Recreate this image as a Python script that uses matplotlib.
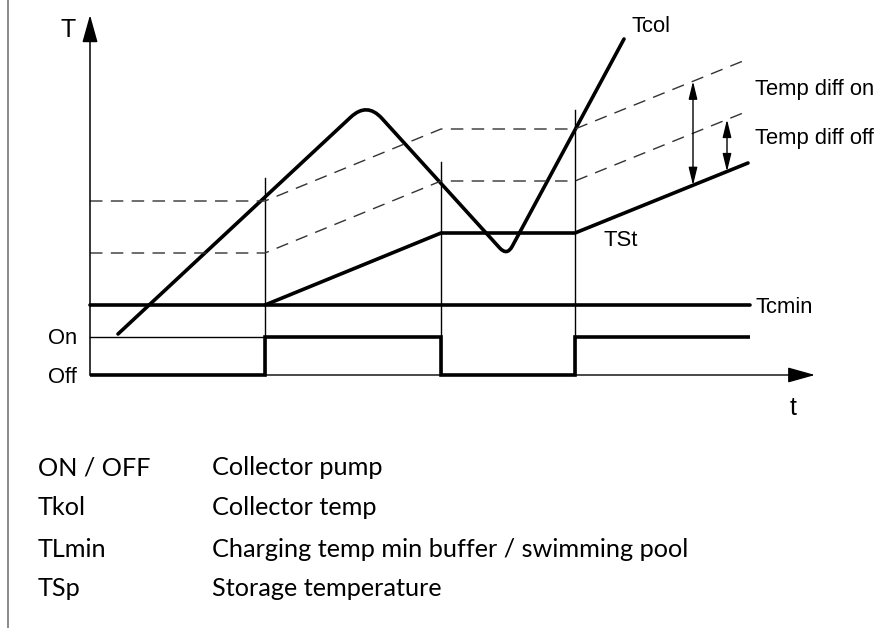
import matplotlib
matplotlib.use('Agg')
import matplotlib.pyplot as plt
from matplotlib.path import Path
from matplotlib.patches import PathPatch
import numpy as np

# ---------------- data (time / temperature units) ----------------
switch_t = [175, 351, 485]            # pump on, pump off, pump on
marker_top = [197, 213, 265]          # top of the thin vertical marker lines
pump_t = [0, 175, 351, 485, 660]
pump_state = [0, 1, 0, 1, 1]
on_level = 38
tcmin_level = 70
tcmin_t = [0, 660]
tst_t = [0, 175, 351, 485, 658]
tst = [70, 70, 142, 142, 212]
diff_on = 104
diff_off = 52
tcol_t = [28, 277, 417, 534]
tcol = [41, 273, 119, 336]
arrow_on_t = 603
arrow_off_t = 637

legend_keys = ["ON / OFF", "Tkol", "TLmin", "TSp"]
legend_desc = ["Collector pump", "Collector temp",
               "Charging temp min buffer / swimming pool", "Storage temperature"]

# ---------------- figure ----------------
W, H = 891, 628
fig = plt.figure(figsize=(W / 100, H / 100), dpi=100)
ax = fig.add_axes([0, 0, 1, 1])
ax.set_xlim(-90, W - 90)
ax.set_ylim(375 - H, 375)
ax.axis('off')

LF = 'Liberation Sans'
THICK = 2.6
THIN = 1.0

# left page border
ax.plot([-82, -82], [375 - H, 375], color='#808080', lw=1.3, solid_capstyle='butt')

# axes with arrows
ax.annotate('', xy=(0, 360), xytext=(0, 0),
            arrowprops=dict(arrowstyle='-|>,head_length=1.0,head_width=0.28',
                            mutation_scale=17, lw=1.1, color='k',
                            shrinkA=0, shrinkB=0))
ax.annotate('', xy=(725, 0), xytext=(0, 0),
            arrowprops=dict(arrowstyle='-|>,head_length=1.0,head_width=0.28',
                            mutation_scale=17, lw=1.0, color='k',
                            shrinkA=0, shrinkB=0))

# thin "On" reference line up to first switch
ax.plot([0, switch_t[0]], [on_level, on_level], color='k', lw=THIN)

# vertical marker lines
for xs, top in zip(switch_t, marker_top):
    ax.plot([xs, xs], [0, top], color='k', lw=1.0)

# dashed switching thresholds
tst_arr = np.array(tst, float)
ax.plot(tst_t, tst_arr + diff_on, color='#333333', lw=1.0, dashes=(9, 6))
ax.plot(tst_t, tst_arr + diff_off, color='#333333', lw=1.0, dashes=(9, 6))

# Tcmin
ax.plot(tcmin_t, [tcmin_level, tcmin_level], color='k', lw=THICK,
        solid_capstyle='round')

# TSt
ax.plot(tst_t[1:], tst[1:], color='k', lw=THICK, solid_capstyle='round',
        solid_joinstyle='miter')

# pump signal
ax.plot(pump_t, np.array(pump_state) * on_level, color='k', lw=THICK,
        drawstyle='steps-post', solid_joinstyle='miter', solid_capstyle='butt')


# Tcol with rounded corners
def rounded_path(xs, ys, cuts):
    verts = [(xs[0], ys[0])]
    codes = [Path.MOVETO]
    for i in range(1, len(xs) - 1):
        p = np.array([xs[i], ys[i]], float)
        a = np.array([xs[i - 1], ys[i - 1]], float)
        b = np.array([xs[i + 1], ys[i + 1]], float)
        d = cuts[i - 1]
        p0 = p + (a - p) / np.linalg.norm(a - p) * d
        p2 = p + (b - p) / np.linalg.norm(b - p) * d
        verts += [tuple(p0), tuple(p), tuple(p2)]
        codes += [Path.LINETO, Path.CURVE3, Path.CURVE3]
    verts.append((xs[-1], ys[-1]))
    codes.append(Path.LINETO)
    return Path(verts, codes)


ax.add_patch(PathPatch(rounded_path(tcol_t, tcol, [22, 11]), fill=False,
                       lw=THICK, edgecolor='k', capstyle='round',
                       joinstyle='round'))

# temperature-difference double arrows
for xa, dd in [(arrow_on_t, diff_on), (arrow_off_t, diff_off)]:
    yb = np.interp(xa, tst_t, tst)
    ax.annotate('', xy=(xa, yb + dd), xytext=(xa, yb),
                arrowprops=dict(arrowstyle='<|-|>,head_length=0.9,head_width=0.22',
                                mutation_scale=12, lw=1.0, color='k',
                                shrinkA=0, shrinkB=0))

# labels
fs = 15.8
ax.text(-14, 338, 'T', fontsize=18, family=LF, ha='right', va='baseline')
ax.text(703, -40, 't', fontsize=18, family=LF, ha='center', va='baseline')
ax.text(542, 343, 'Tcol', fontsize=fs, family=LF, ha='left', va='baseline')
ax.text(665, 280, 'Temp diff on', fontsize=fs, family=LF, ha='left', va='baseline')
ax.text(665, 231, 'Temp diff off', fontsize=fs, family=LF, ha='left', va='baseline')
ax.text(513, 129, 'TSt', fontsize=fs, family=LF, ha='left', va='baseline')
ax.text(665, 62, 'Tcmin', fontsize=fs, family=LF, ha='left', va='baseline')
ax.text(-13, 31, 'On', fontsize=fs, family=LF, ha='right', va='baseline')
ax.text(-13, -8, 'Off', fontsize=fs, family=LF, ha='right', va='baseline')

# legend table
base_y = [-100, -140, -182, -221]
for k, dsc, yb in zip(legend_keys, legend_desc, base_y):
    ax.text(-52, yb, k, fontsize=18.2, family='Lato', ha='left', va='baseline')
    ax.text(122, yb, dsc, fontsize=18.2, family='Lato', ha='left', va='baseline')

fig.savefig('out.png', dpi=100)
